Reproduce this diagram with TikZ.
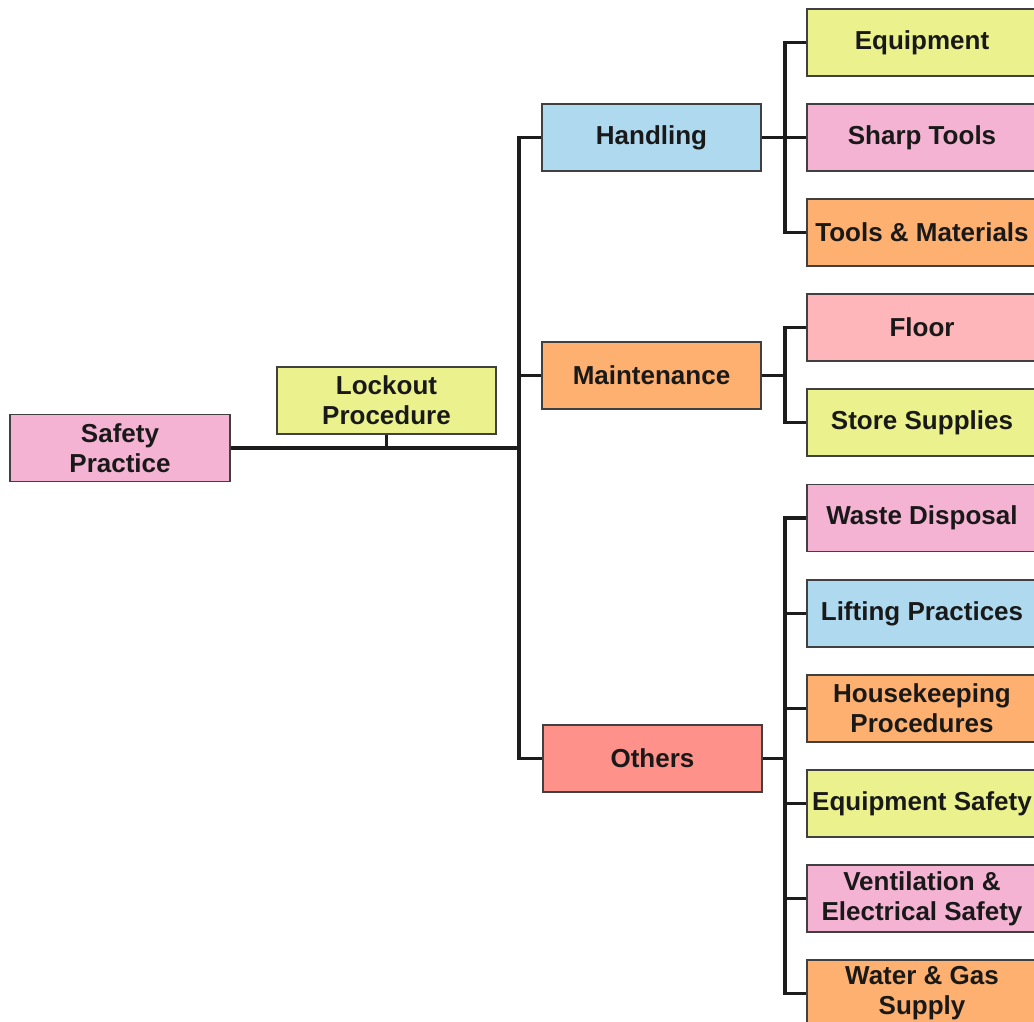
\documentclass[tikz,border=0pt]{standalone}
\usepackage{fontspec}
\setmainfont{Liberation Sans}
\definecolor{cpink}{HTML}{F4B3D3}
\definecolor{cyellow}{HTML}{EBF28D}
\definecolor{cblue}{HTML}{AED9EF}
\definecolor{corange}{HTML}{FDB06F}
\definecolor{cred}{HTML}{FE928A}
\definecolor{crose}{HTML}{FFB6BB}
\definecolor{cline}{HTML}{1C1C1C}
\begin{document}
\begin{tikzpicture}[x=1pt,y=-1pt,
  box/.style={draw=black!75, line width=1.2pt, minimum height=67pt, inner sep=0pt,
    align=center, text=black!90, font=\fontsize{26}{30}\selectfont\bfseries},
  midbox/.style={box, minimum width=219pt},
  leafbox/.style={box, minimum width=230pt},
  conn/.style={draw=cline, line width=3.5pt}]
\useasboundingbox (0,0) rectangle (1034,1022);
% root and side
\node[box, minimum width=220pt, fill=cpink] (safety) at (120,448) {Safety\\Practice};
\node[midbox, fill=cyellow] (lockout) at (386.5,400.5) {Lockout\\Procedure};
% middle
\node[midbox, fill=cblue] (handling) at (651.5,137.5) {Handling};
\node[midbox, fill=corange] (maint) at (651.5,375.5) {Maintenance};
\node[midbox, fill=cred] (others) at (652.5,758.5) {Others};
% leaves
\node[leafbox, fill=cyellow] (equip) at (922,42.5) {Equipment};
\node[leafbox, fill=cpink] (sharp) at (922,137.5) {Sharp Tools};
\node[leafbox, fill=corange] (toolsmat) at (922,232.5) {Tools \& Materials};
\node[leafbox, fill=crose] (floor) at (922,327.5) {Floor};
\node[leafbox, fill=cyellow] (store) at (922,422.5) {Store Supplies};
\node[leafbox, fill=cpink] (waste) at (922,518) {Waste Disposal};
\node[leafbox, fill=cblue] (lifting) at (922,613.5) {Lifting Practices};
\node[leafbox, fill=corange] (house) at (922,708.5) {Housekeeping\\Procedures};
\node[leafbox, fill=cyellow] (eqsafe) at (922,803.5) {Equipment Safety};
\node[leafbox, fill=cpink] (vent) at (922,898.5) {Ventilation \&\\Electrical Safety};
\node[leafbox, fill=corange] (water) at (922,993.5) {Water \& Gas\\Supply};
% junctions
\coordinate (tj) at (519,448);
\coordinate (hj) at (785,137.5);
\coordinate (mj) at (785,375.5);
\coordinate (oj) at (785,758.5);
% main connectors
\draw[conn] (safety.east) -- (tj);
\draw[conn] (lockout.south) -- (lockout.south |- tj);
\draw[conn] (handling.west) -| (tj) |- (others.west);
\draw[conn] (maint.west) -- (maint.west -| tj);
% handling
\draw[conn] (handling.east) -- (hj);
\draw[conn] (equip.west) -| (hj) |- (toolsmat.west);
\draw[conn] (sharp.west) -- (hj);
% maintenance
\draw[conn] (maint.east) -- (mj);
\draw[conn] (floor.west) -| (mj) |- (store.west);
% others
\draw[conn] (others.east) -- (oj);
\draw[conn] (waste.west) -| (oj) |- (water.west);
\draw[conn] (lifting.west) -- (lifting.west -| oj);
\draw[conn] (house.west) -- (house.west -| oj);
\draw[conn] (eqsafe.west) -- (eqsafe.west -| oj);
\draw[conn] (vent.west) -- (vent.west -| oj);
\end{tikzpicture}
\end{document}
